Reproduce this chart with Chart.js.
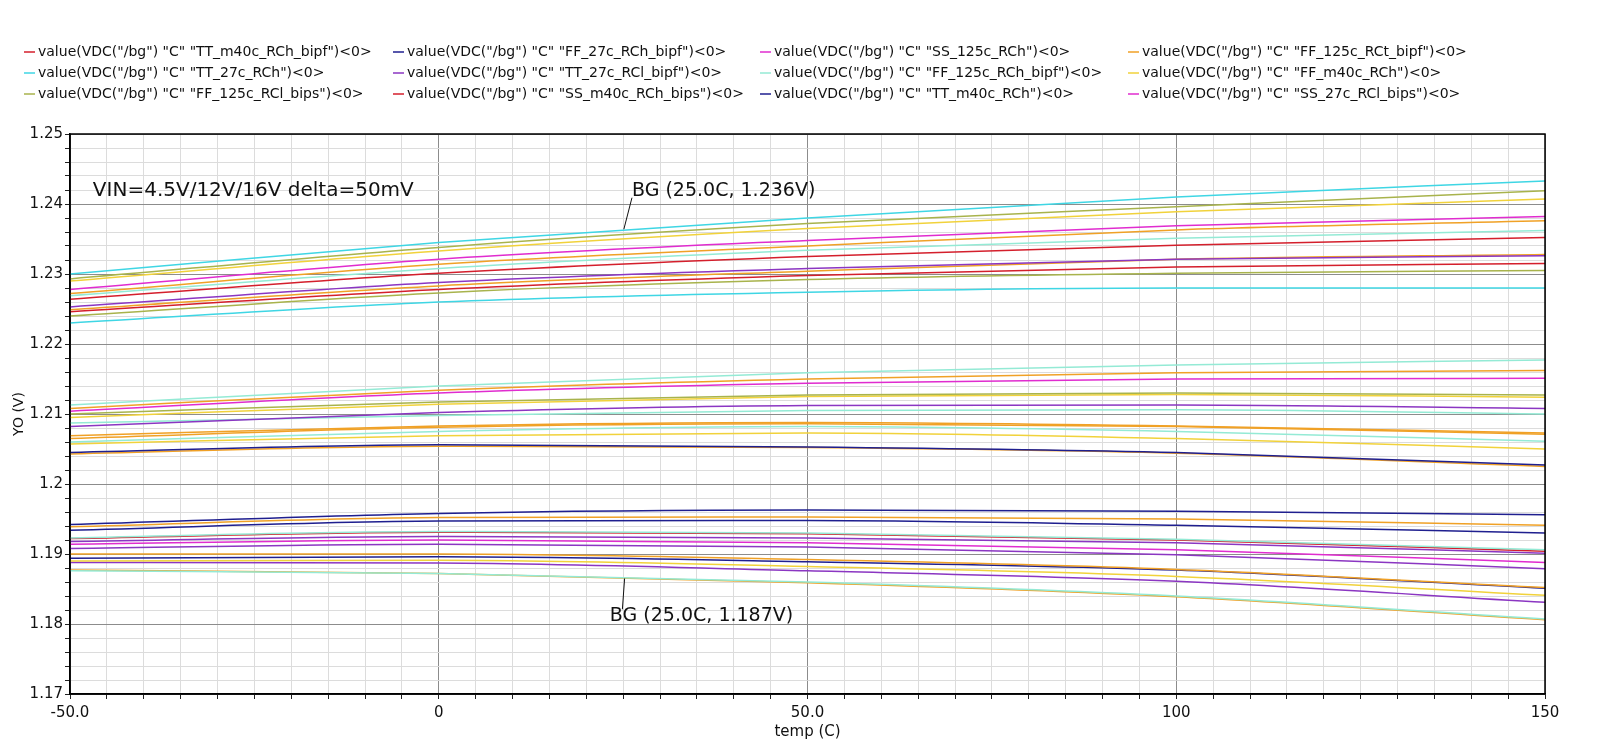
<!DOCTYPE html>
<html>
<head>
<meta charset="utf-8">
<script src="https://cdn.jsdelivr.net/npm/chart.js@4.4.1/dist/chart.umd.min.js"></script>
<style>
  html, body { margin: 0; padding: 0; background: #fff; }
</style>
</head>
<body>
<canvas id="bg-chart" width="1600" height="747"></canvas>
<script>
// temperature sweep points (C)
const temps = [-50, 0, 50, 100, 150];

// corner names shown in the legend
const corners = [
  'TT_m40c_RCh_bipf', 'FF_27c_RCh_bipf', 'SS_125c_RCh', 'FF_125c_RCt_bipf',
  'TT_27c_RCh', 'TT_27c_RCl_bipf', 'FF_125c_RCh_bipf', 'FF_m40c_RCh',
  'FF_125c_RCl_bips', 'SS_m40c_RCh_bips', 'TT_m40c_RCh', 'SS_27c_RCl_bips'
];
const legendColors = ['red', 'navy', 'magenta', 'orange', 'cyan', 'purple', 'aqua', 'yellow', 'olive', 'red', 'navy', 'magenta'];

// bandgap output (V), upper band
const bandTop = [
  [1.2300, 1.2345, 1.2380, 1.2410, 1.2433],
  [1.2293, 1.2338, 1.2372, 1.2396, 1.2419],
  [1.2290, 1.2333, 1.2365, 1.2389, 1.2407],
  [1.2278, 1.2321, 1.2348, 1.2369, 1.2382],
  [1.2272, 1.2314, 1.2340, 1.2363, 1.2376],
  [1.2269, 1.2308, 1.2334, 1.2351, 1.2362],
  [1.2264, 1.2301, 1.2325, 1.2341, 1.2352],
  [1.2253, 1.2288, 1.2308, 1.2321, 1.2326],
  [1.2249, 1.2283, 1.2304, 1.2321, 1.2328],
  [1.2246, 1.2278, 1.2298, 1.2310, 1.2315],
  [1.2240, 1.2273, 1.2292, 1.2301, 1.2305],
  [1.2230, 1.2260, 1.2274, 1.2280, 1.2280]
];
const topColors = ['cyan', 'olive', 'yellow', 'magenta', 'orange', 'aqua', 'red', 'purple', 'orange', 'red', 'olive', 'cyan'];

// middle band
const bandMid = [
  [1.2113, 1.2140, 1.2159, 1.2170, 1.2177],
  [1.2108, 1.2134, 1.2150, 1.2159, 1.2162],
  [1.2104, 1.2130, 1.2144, 1.2150, 1.2151],
  [1.2100, 1.2117, 1.2127, 1.2130, 1.2127],
  [1.2095, 1.2114, 1.2125, 1.2128, 1.2124],
  [1.2082, 1.2102, 1.2112, 1.2113, 1.2108],
  [1.2087, 1.2098, 1.2105, 1.2106, 1.2100],
  [1.2069, 1.2083, 1.2088, 1.2083, 1.2073],
  [1.2065, 1.2081, 1.2086, 1.2082, 1.2071],
  [1.2060, 1.2075, 1.2082, 1.2075, 1.2061],
  [1.2057, 1.2069, 1.2073, 1.2065, 1.2050],
  [1.2045, 1.2056, 1.2053, 1.2045, 1.2027],
  [1.2043, 1.2054, 1.2052, 1.2044, 1.2025]
];
const midColors = ['aqua', 'orange', 'magenta', 'olive', 'yellow', 'purple', 'aqua', 'orange', 'orange', 'aqua', 'yellow', 'navy', 'orange'];

// lower band
const bandLow = [
  [1.1942, 1.1958, 1.1963, 1.1961, 1.1956],
  [1.1939, 1.1952, 1.1953, 1.1950, 1.1941],
  [1.1934, 1.1947, 1.1948, 1.1941, 1.1930],
  [1.1923, 1.1932, 1.1930, 1.1921, 1.1906],
  [1.1922, 1.1931, 1.1929, 1.1920, 1.1904],
  [1.1918, 1.1925, 1.1923, 1.1916, 1.1901],
  [1.1914, 1.1920, 1.1916, 1.1906, 1.1888],
  [1.1908, 1.1914, 1.1910, 1.1899, 1.1879],
  [1.1900, 1.1900, 1.1892, 1.1878, 1.1852],
  [1.1894, 1.1896, 1.1889, 1.1877, 1.1851],
  [1.1890, 1.1891, 1.1882, 1.1868, 1.1841],
  [1.1888, 1.1887, 1.1876, 1.1861, 1.1831],
  [1.1876, 1.1872, 1.1860, 1.1840, 1.1807],
  [1.1877, 1.1872, 1.1859, 1.1839, 1.1806]
];
const lowColors = ['navy', 'orange', 'navy', 'aqua', 'red', 'purple', 'magenta', 'purple', 'orange', 'navy', 'yellow', 'purple', 'aqua', 'orange'];

// axis labels
const xLabelValues = [-50, 0, 50, 100, 150];
const xLabelTexts = ['-50.0', '0', '50.0', '100', '150'];
const yTickLabels = ['1.17', '1.18', '1.19', '1.2', '1.21', '1.22', '1.23', '1.24', '1.25'];

const palette = {
  red: '#d41f2c', navy: '#1f1f8f', magenta: '#e02ccf', orange: '#f0a126',
  cyan: '#3fd6e4', purple: '#8b36c2', aqua: '#94ead5', yellow: '#f1d23b',
  olive: '#a8b34c'
};

const datasets = [];
[[bandTop, topColors], [bandMid, midColors], [bandLow, lowColors]].forEach(([rows, cols]) => {
  rows.forEach((vals, i) => {
    datasets.push({
      data: vals.map((v, j) => ({ x: temps[j], y: v })),
      borderColor: palette[cols[i]],
      borderWidth: 1.5,
      pointRadius: 0,
      cubicInterpolationMode: 'monotone',
      fill: false
    });
  });
});

const FONT = '"DejaVu Sans", sans-serif';

// legend in a fixed 4 column grid like the simulator window
const legendGrid = {
  id: 'legendGrid',
  afterDraw(chart) {
    const ctx = chart.ctx;
    const cols = [24, 393, 760, 1128];
    const rows = [52, 73, 94];
    ctx.save();
    ctx.font = '14px ' + FONT;
    ctx.textBaseline = 'middle';
    corners.forEach((name, i) => {
      const x = cols[i % 4], y = rows[Math.floor(i / 4)];
      ctx.strokeStyle = palette[legendColors[i]];
      ctx.lineWidth = 1.5;
      ctx.beginPath();
      ctx.moveTo(x, y);
      ctx.lineTo(x + 11, y);
      ctx.stroke();
      ctx.fillStyle = '#111';
      ctx.fillText(`value(VDC("/bg") "C" "${name}")<0>`, x + 14, y);
    });
    ctx.restore();
  }
};

// text notes and marker leaders
const notes = [
  { text: 'VIN=4.5V/12V/16V delta=50mV', t: -46.9, v: 1.2419, size: 20 },
  { text: 'BG (25.0C, 1.236V)', t: 26.2, v: 1.2418, size: 19, lead: [[25.1, 1.2364], [26.2, 1.2409]] },
  { text: 'BG (25.0C, 1.187V)', t: 23.2, v: 1.1811, size: 19, lead: [[25.2, 1.1865], [24.9, 1.1821]] }
];
const noteLayer = {
  id: 'noteLayer',
  afterDraw(chart) {
    const { ctx, scales: { x, y } } = chart;
    ctx.save();
    ctx.fillStyle = '#111';
    ctx.strokeStyle = '#111';
    ctx.lineWidth = 1;
    ctx.textBaseline = 'middle';
    notes.forEach(n => {
      ctx.font = n.size + 'px ' + FONT;
      ctx.fillText(n.text, x.getPixelForValue(n.t), y.getPixelForValue(n.v));
      if (n.lead) {
        ctx.beginPath();
        ctx.moveTo(x.getPixelForValue(n.lead[0][0]), y.getPixelForValue(n.lead[0][1]));
        ctx.lineTo(x.getPixelForValue(n.lead[1][0]), y.getPixelForValue(n.lead[1][1]));
        ctx.stroke();
      }
    });
    ctx.restore();
  }
};

const frame = {
  id: 'frame',
  afterDraw(chart) {
    const { ctx, chartArea: a } = chart;
    ctx.save();
    ctx.strokeStyle = '#000';
    ctx.lineWidth = 1.5;
    ctx.strokeRect(a.left, a.top, a.right - a.left, a.bottom - a.top);
    ctx.restore();
  }
};

const isMajorY = v => Math.round(v * 1000) % 10 === 0;

new Chart(document.getElementById('bg-chart'), {
  type: 'line',
  data: { datasets },
  options: {
    responsive: false,
    animation: false,
    layout: { padding: { top: 134, right: 55, left: 0, bottom: 0 } },
    plugins: {
      legend: { display: false },
      tooltip: { enabled: false }
    },
    scales: {
      x: {
        type: 'linear',
        min: -50,
        max: 150,
        afterFit: s => { s.height = 53; },
        border: { display: true, color: '#000', width: 1.5 },
        grid: {
          color: c => (c.tick && c.tick.value % 50 === 0) ? '#8c8c8c' : '#dcdcdc',
          tickColor: '#222',
          tickLength: 5
        },
        ticks: {
          stepSize: 5,
          autoSkip: false,
          maxRotation: 0,
          padding: 5,
          color: '#111',
          font: { family: FONT, size: 15 },
          callback: v => {
            const i = xLabelValues.indexOf(Math.round(v));
            return i >= 0 ? xLabelTexts[i] : '';
          }
        },
        title: {
          display: true,
          text: 'temp (C)',
          color: '#111',
          font: { family: FONT, size: 15 },
          padding: { top: 0, bottom: 6 }
        }
      },
      y: {
        min: 1.17,
        max: 1.25,
        afterFit: s => { s.width = 70; },
        border: { display: true, color: '#000', width: 1.5 },
        grid: {
          color: c => (c.tick && isMajorY(c.tick.value)) ? '#8c8c8c' : '#dcdcdc',
          tickColor: '#222',
          tickLength: 5
        },
        ticks: {
          stepSize: 0.002,
          autoSkip: false,
          padding: 2,
          color: '#111',
          font: { family: FONT, size: 15 },
          callback: v => isMajorY(v) ? yTickLabels[Math.round((v - 1.17) * 100)] : ''
        },
        title: {
          display: true,
          text: 'YO (V)',
          color: '#111',
          font: { family: FONT, size: 14 },
          padding: { top: 11, bottom: 0 }
        }
      }
    }
  },
  plugins: [legendGrid, noteLayer, frame]
});
</script>
</body>
</html>
